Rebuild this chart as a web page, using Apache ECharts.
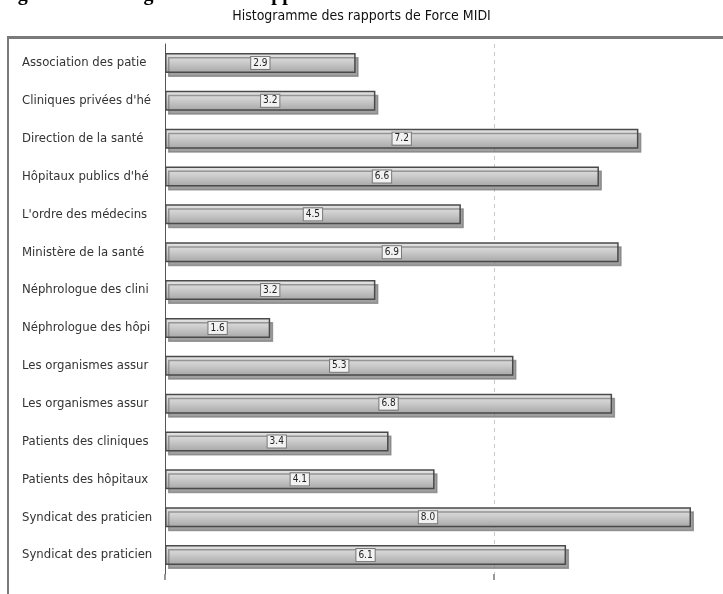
<!DOCTYPE html>
<html>
<head>
<meta charset="utf-8">
<script src="https://cdn.jsdelivr.net/npm/echarts@6/dist/echarts.min.js"></script>
<style>
  html, body { margin: 0; padding: 0; background: #fff; }
  #chart { width: 723px; height: 594px; }
</style>
</head>
<body>
<div id="chart"></div>
<script>
// Acteurs évalués (libellés tronqués comme dans le rapport)
const categories = [
  'Association des patie',
  'Cliniques privées d\'hé',
  'Direction de la santé',
  'Hôpitaux publics d\'hé',
  'L\'ordre des médecins',
  'Ministère de la santé',
  'Néphrologue des clini',
  'Néphrologue des hôpi',
  'Les organismes assur',
  'Les organismes assur',
  'Patients des cliniques',
  'Patients des hôpitaux',
  'Syndicat des praticien',
  'Syndicat des praticien'
];

// Rapport de force MIDI de chaque acteur
const forceValues = [2.9, 3.2, 7.2, 6.6, 4.5, 6.9, 3.2, 1.6, 5.3, 6.8, 3.4, 4.1, 8.0, 6.1];

// Bornes de l'échelle horizontale et graduations marquées
const axisMin = 0;
const axisMax = 8;
const axisStep = 5;
const tickValues = [0, 5];

const narrow = '"Liberation Sans Narrow", "Arial Narrow", "DejaVu Sans Condensed", sans-serif';

const chart = echarts.init(document.getElementById('chart'), null, { renderer: 'canvas' });

chart.setOption({
  backgroundColor: '#ffffff',
  animation: false,
  title: {
    text: 'Histogramme des rapports de Force MIDI',
    left: 'center',
    top: 4,
    textStyle: { fontFamily: narrow, fontSize: 14, fontWeight: 'normal', color: '#111' }
  },
  graphic: [
    {
      type: 'text',
      left: 0,
      top: -15,
      style: {
        text: 'Figure 12 : Histogramme des rapports de force',
        font: 'bold 20px "Liberation Serif", serif',
        fill: '#000'
      }
    },
    {
      type: 'rect',
      shape: { x: 8, y: 37, width: 740, height: 600 },
      style: { fill: 'none', stroke: '#7a7a7a', lineWidth: 2 },
      z: 0
    },
    {
      type: 'rect',
      shape: { x: 8, y: 36, width: 740, height: 3 },
      style: { fill: '#7a7a7a' },
      z: 0
    }
  ],
  grid: { left: 165, right: 32, top: 44, bottom: 20, containLabel: false },
  xAxis: {
    type: 'value',
    min: axisMin,
    max: axisMax,
    interval: axisStep,
    axisLine: { show: false },
    axisTick: {
      show: true,
      customValues: tickValues,
      length: 6,
      lineStyle: { color: '#777', width: 1.5 }
    },
    axisLabel: { show: false },
    splitLine: {
      show: true,
      showMinLine: false,
      lineStyle: { color: '#c8c8c8', type: [4, 4], width: 1 }
    }
  },
  yAxis: {
    type: 'category',
    data: categories,
    inverse: true,
    axisLine: { show: true, lineStyle: { color: '#555', width: 1 } },
    axisTick: { show: false },
    axisLabel: {
      align: 'left',
      margin: 143,
      fontFamily: narrow,
      fontSize: 13,
      color: '#333'
    }
  },
  series: [{
    type: 'bar',
    data: forceValues,
    barWidth: 20,
    itemStyle: {
      color: {
        type: 'linear', x: 0, y: 0, x2: 0, y2: 1,
        colorStops: [
          { offset: 0, color: '#e6e6e6' },
          { offset: 0.45, color: '#cdcdcd' },
          { offset: 1, color: '#a6a6a6' }
        ]
      },
      borderColor: '#4a4a4a',
      borderWidth: 1.5,
      shadowColor: 'rgba(120,120,120,0.7)',
      shadowBlur: 0,
      shadowOffsetX: 3,
      shadowOffsetY: 4
    },
    label: {
      show: true,
      position: 'inside',
      formatter: p => p.value.toFixed(1),
      fontFamily: narrow,
      fontSize: 10,
      color: '#222',
      backgroundColor: '#f2f2f2',
      borderColor: '#777',
      borderWidth: 1,
      padding: [1, 2]
    }
  }]
});
</script>
</body>
</html>
